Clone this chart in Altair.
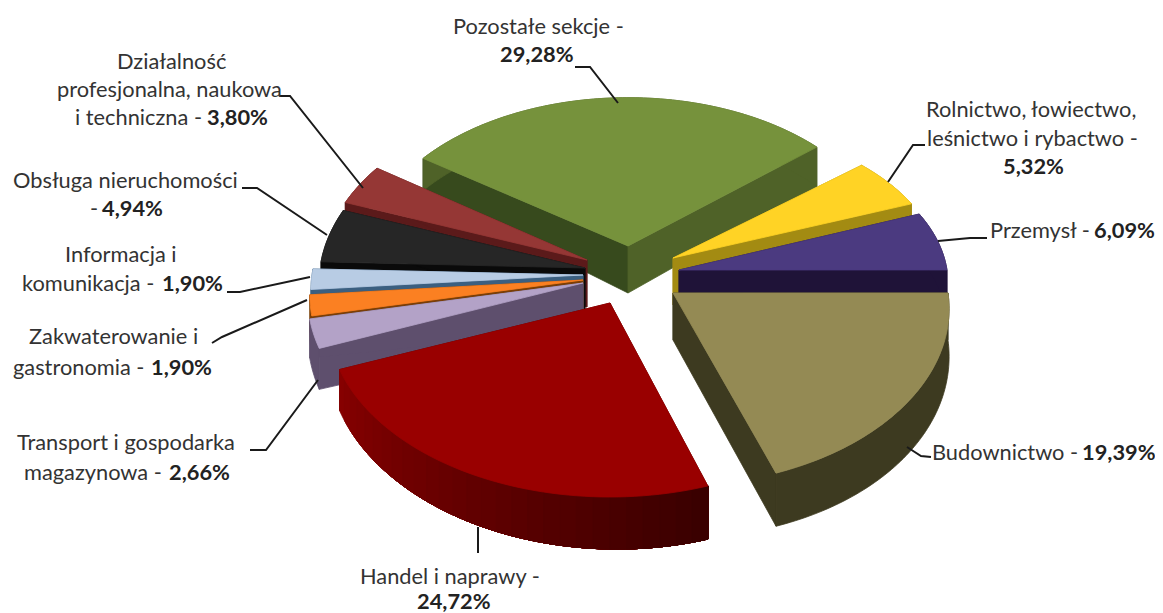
import math
import altair as alt

# ---- chart values (in drawing order of the pie, clockwise)
sectors = ["Pozostałe sekcje", "Rolnictwo, łowiectwo, leśnictwo i rybactwo", "Przemysł", "Budownictwo",
           "Handel i naprawy", "Transport i gospodarka magazynowa", "Zakwaterowanie i gastronomia",
           "Informacja i komunikacja", "Obsługa nieruchomości",
           "Działalność profesjonalna, naukowa i techniczna"]
shares = [29.28, 5.32, 6.09, 19.39, 24.72, 2.66, 1.90, 1.90, 4.94, 3.80]
top_colors = ["#76923c", "#ffd325", "#4b3a80", "#948a54", "#990000", "#b3a2c7", "#fb8022", "#b8cce4", "#262626", "#953735"]
side_colors = ["#4f6228", "#a38b12", "#1f1338", "#3d3a20", "#5a0000", "#5e4f6d", "#7a3e06", "#3b5f80", "#0a0a0a", "#5b1a1a"]

# ---- presentation of the tilted, exploded pie
START_ANGLE = -146.5
APEX = [(628, 246), (673, 258), (679, 270), (673, 293), (610, 303), (583, 283), (583, 280), (583, 275), (585, 268), (587, 260)]
RADII = [(262, 163), (266, 150), (268, 155), (275, 177), (281, 178), (274, 175), (272, 175), (271, 172), (265, 175), (265, 175)]
# small rotation of each slice's edges caused by the picture's perspective
EDGE_SHIFT = {0: (1, 1), 4: (1.5, 0)}
DRAW_ORDER = [0, 9, 1, 8, 7, 6, 5, 2, 3, 4]
APEX_DEPTH = 47
HANDEL_BANDS = 28


def rim(i, t):
    r = math.radians(t)
    p = 1 + 0.09 * math.sin(r)
    return APEX[i][0] + RADII[i][0] * math.cos(r) * p, APEX[i][1] + RADII[i][1] * math.sin(r) * p


def rim_depth(t):
    r = math.radians(t)
    return 42 + 10 * math.sin(r) + 5 * math.cos(r)


def poly(pts, color):
    ring = [[round(x, 2), round(y, 2)] for x, y in pts]
    ring.append(ring[0])
    return {"type": "Feature", "properties": {"fill": color}, "geometry": {"type": "Polygon", "coordinates": [ring]}}


bounds = [START_ANGLE]
for s in shares:
    bounds.append(bounds[-1] + s / sum(shares) * 360)

features = []
for i in DRAW_ORDER:
    d0, d1 = EDGE_SHIFT.get(i, (0, 0))
    a0, a1 = bounds[i] + d0, bounds[i + 1] + d1
    n = max(8, int(a1 - a0))
    if i == 4:
        n = 2 * HANDEL_BANDS
    ts = [a0 + (a1 - a0) * k / n for k in range(n + 1)]
    top = [rim(i, t) for t in ts]
    bottom = [(x, y + rim_depth(t)) for (x, y), t in zip(top, ts)]
    ax, ay = APEX[i]
    # radial faces
    left_col = "#374a1d" if i == 0 else side_colors[i]
    features.append(poly([(ax, ay), top[0], bottom[0], (ax, ay + APEX_DEPTH)], left_col))
    features.append(poly([(ax, ay), top[-1], bottom[-1], (ax, ay + APEX_DEPTH)], side_colors[i]))
    # rim
    if i == 4:
        # overlapping bands, lightest (left) first, so that no seams show
        for b in range(HANDEL_BANDS):
            end = n - 2 * b
            red = round(0x86 - (0x86 - 0x3a) * b / (HANDEL_BANDS - 1))
            features.append(poly(top[:end + 1] + bottom[:end + 1][::-1], f"#{red:02x}0000"))
    else:
        features.append(poly(top + bottom[::-1], side_colors[i]))
    features.append(poly([(ax, ay)] + top, top_colors[i]))

# ---- annotation text: (x, y, text, bold) in picture pixels
labels = [
    (453, 27, "Pozostałe sekcje -", False), (500, 55, "29,28%", True),
    (117, 62, "Działalność", False), (57, 90, "profesjonalna, naukowa", False),
    (75, 118, "i techniczna -", False), (207, 118, "3,80%", True),
    (13, 181, "Obsługa nieruchomości", False), (90, 209, "-", False), (102, 209, "4,94%", True),
    (65, 255, "Informacja i", False), (22, 284, "komunikacja -", False), (162, 284, "1,90%", True),
    (29, 337, "Zakwaterowanie i", False), (13, 368, "gastronomia -", False), (151, 368, "1,90%", True),
    (17, 443, "Transport i gospodarka", False), (24, 473, "magazynowa -", False), (169, 473, "2,66%", True),
    (360, 577, "Handel i naprawy -", False), (417, 602, "24,72%", True),
    (932, 453, "Budownictwo -", False), (1082, 453, "19,39%", True),
    (990, 231, "Przemysł -", False), (1094, 231, "6,09%", True),
    (926, 110, "Rolnictwo, łowiectwo,", False), (927, 139, "leśnictwo i rybactwo -", False), (1003, 167, "5,32%", True),
]
leaders = [
    [(575, 67), (590, 67), (618, 103)],
    [(925, 145), (913, 145), (888, 182)],
    [(987, 238), (970, 238), (938, 241)],
    [(931, 457), (921, 456), (907, 447)],
    [(478, 527), (478, 553)],
    [(250, 450), (266, 450), (318, 380)],
    [(212, 343), (222, 337), (307, 300)],
    [(227, 292), (240, 292), (310, 277)],
    [(242, 188), (257, 188), (327, 235)],
    [(280, 96), (290, 96), (363, 188)],
]

x_scale = alt.Scale(domain=[8, 1155])
y_scale = alt.Scale(domain=[8, 613], reverse=True)

pie = alt.Chart(alt.Data(values=features)).mark_geoshape(strokeWidth=0.8).encode(
    fill=alt.Fill("properties.fill:N", scale=None, legend=None),
    stroke=alt.Stroke("properties.fill:N", scale=None, legend=None),
).project(type="identity", scale=1, translate=[-8, -8])

leader_rows = [{"g": g, "o": o, "x": p[0], "y": p[1]} for g, line in enumerate(leaders) for o, p in enumerate(line)]
leader_chart = alt.Chart(alt.Data(values=leader_rows)).mark_line(color="#1a1a1a", strokeWidth=2).encode(
    x=alt.X("x:Q", scale=x_scale, axis=None),
    y=alt.Y("y:Q", scale=y_scale, axis=None),
    detail="g:N",
    order="o:Q",
)

label_rows = [{"x": x, "y": y, "t": t, "b": "bold" if b else "normal"} for x, y, t, b in labels]


def text_layer(weight):
    return alt.Chart(alt.Data(values=[r for r in label_rows if r["b"] == weight])).mark_text(
        font="Lato", fontSize=21.8, align="left", baseline="middle", color="#333333" if weight == "normal" else "#222222",
        fontWeight=weight,
    ).encode(
        x=alt.X("x:Q", scale=x_scale, axis=None),
        y=alt.Y("y:Q", scale=y_scale, axis=None),
        text="t:N",
    )


chart = alt.layer(pie, leader_chart, text_layer("normal"), text_layer("bold")).properties(
    width=1147, height=605, padding=0, background="white",
    autosize=alt.AutoSizeParams(type="none", contains="padding"),
).configure_view(stroke=None)

chart.save("out.html", embed_options={"renderer": "svg", "actions": False})
